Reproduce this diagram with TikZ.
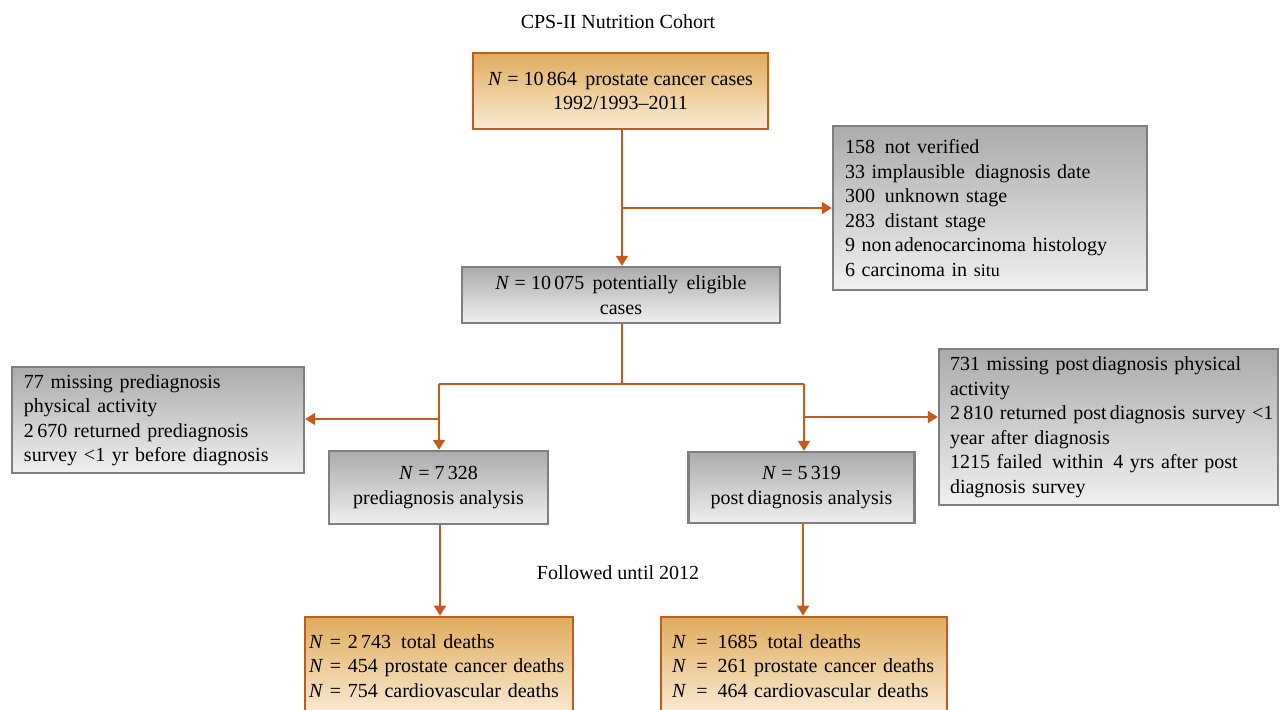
\documentclass[tikz,border=0pt]{standalone}
\usepackage{fontspec}
\setmainfont{Liberation Serif}
\usetikzlibrary{arrows.meta}
\definecolor{orline}{HTML}{C55A1C}
\definecolor{ortop}{HTML}{DEAC5C}
\definecolor{orbot}{HTML}{FBEBD5}
\definecolor{grtop}{HTML}{ABABAB}
\definecolor{grbot}{HTML}{F0F0F0}
\definecolor{grline}{HTML}{7F7F7F}
\tikzset{
  obox/.style={draw=orline, line width=1.4pt, top color=ortop, bottom color=orbot, inner xsep=6pt, inner ysep=0pt, font=\fontsize{10}{12.25}\selectfont},
  gbox/.style={draw=grline, line width=1.2pt, top color=grtop, bottom color=grbot, inner xsep=6pt, inner ysep=0pt, font=\fontsize{10}{12.25}\selectfont},
  conn/.style={draw=orline, line width=1pt},
  arr/.style={conn, -{Triangle[length=5pt,width=6pt]}},
  lbl/.style={font=\fontsize{10}{12.25}\selectfont}
}
\begin{document}
\begin{tikzpicture}[x=0.5pt,y=-0.5pt]
\useasboundingbox (0,0) rectangle (1280,709);
\clip (0,0) rectangle (1280,709);
\node[lbl] (title) at (618,22) {CPS-II Nutrition Cohort};
\node[obox, minimum width=147.5pt, minimum height=38pt, align=center] (top) at (620.5,91)
  {\textit{N} = 10\,864\, prostate cancer cases\\1992/1993--2011};
\node[gbox, minimum width=157pt, minimum height=82pt, text width=145pt, align=left] (ex1) at (990,208)
  {\mbox{158\, not verified}\\\mbox{33 implausible\, diagnosis date}\\\mbox{300\, unknown stage}\\\mbox{283\, distant stage}\\\mbox{9 non\,adenocarcinoma histology}\\\mbox{6 carcinoma in {\small situ}}};
\node[gbox, minimum width=159pt, minimum height=28pt, align=center] (elig) at (621,295)
  {\textit{N} = 10\,075\, potentially\, eligible\\cases};
\node[gbox, minimum width=146pt, minimum height=53pt, text width=134pt, align=left] (ex2) at (158,420)
  {\mbox{77 missing prediagnosis}\\\mbox{physical activity}\\\mbox{2\,670 returned prediagnosis}\\\mbox{survey {<}1 yr before diagnosis}};
\node[gbox, minimum width=109.5pt, minimum height=36.5pt, align=center] (pre) at (438.5,487.5)
  {\textit{N} = 7\,328\\prediagnosis analysis};
\node[gbox, minimum width=113pt, minimum height=35.5pt, align=center] (post) at (801.5,487.5)
  {\textit{N} = 5\,319\\post\,diagnosis analysis};
\node[gbox, minimum width=169.5pt, minimum height=78pt, text width=158.5pt, inner xsep=5.5pt, align=left] (ex3) at (1108.5,427)
  {\mbox{731 missing post\,diagnosis physical}\\\mbox{activity}\\\mbox{2\,810 returned post\,diagnosis survey {<}1}\\\mbox{year after diagnosis}\\\mbox{1215 failed\, within\, 4 yrs after post}\\\mbox{diagnosis survey}};
\node[lbl] (foll) at (618,573) {Followed until 2012};
\node[obox, minimum width=134pt, minimum height=49pt, text width=130pt, inner xsep=2pt, align=left] (d1) at (439,666)
  {\mbox{\textit{N} = 2\,743\, total deaths}\\\mbox{\textit{N} = 454 prostate cancer deaths}\\\mbox{\textit{N} = 754 cardiovascular deaths}};
\node[obox, minimum width=143pt, minimum height=49pt, text width=137pt, inner xsep=3pt, align=left] (d2) at (804,666)
  {\mbox{\hspace{2.5pt}\textit{N} \,= \,1685\, total deaths}\\\mbox{\hspace{2.5pt}\textit{N} \,= \,261 prostate cancer deaths}\\\mbox{\hspace{2.5pt}\textit{N} \,= \,464 cardiovascular deaths}};
% junctions
\coordinate (j1) at (622,208);
\coordinate (j2) at (622,384);
\coordinate (jl) at (439,384);
\coordinate (jr) at (804,384);
\coordinate (jl2) at (439,419);
\coordinate (jr2) at (804,417);
% connectors
\draw[arr] (top.south -| j1) -- (elig.north -| j1);
\draw[arr] (j1) -- (ex1.west |- j1);
\draw[conn] (elig.south -| j2) -- (j2);
\draw[conn] (jl) -- (jr);
\draw[arr] (jl) -- (pre.north -| jl);
\draw[arr] (jr) -- (post.north -| jr);
\draw[arr] (jl2) -- (ex2.east |- jl2);
\draw[arr] (jr2) -- (ex3.west |- jr2);
\coordinate (k1) at (440,524);
\coordinate (k2) at (803,524);
\draw[arr] (pre.south -| k1) -- (d1.north -| k1);
\draw[arr] (post.south -| k2) -- (d2.north -| k2);
\end{tikzpicture}
\end{document}
